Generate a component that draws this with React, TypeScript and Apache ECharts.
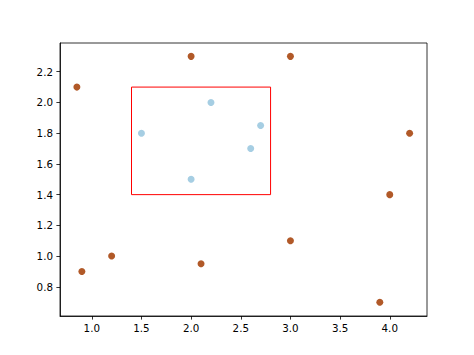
import React, { useEffect, useRef } from "react";
import * as echarts from "echarts";

const outsideX = [0.85, 2.0, 3.0, 4.2, 4.0, 3.0, 0.9, 1.2, 2.1, 3.9];
const outsideY = [2.1, 2.3, 2.3, 1.8, 1.4, 1.1, 0.9, 1.0, 0.95, 0.7];
const insideX = [1.5, 2.2, 2.7, 2.6, 2.0];
const insideY = [1.8, 2.0, 1.85, 1.7, 1.5];
const rectX = [1.4, 2.8, 2.8, 1.4, 1.4];
const rectY = [1.4, 1.4, 2.1, 2.1, 1.4];
const xTicks = [1.0, 1.5, 2.0, 2.5, 3.0, 3.5, 4.0];
const yTicks = [0.8, 1.0, 1.2, 1.4, 1.6, 1.8, 2.0, 2.2];

export default function App() {
  const ref = useRef<HTMLDivElement>(null);
  useEffect(() => {
    const chart = echarts.init(ref.current!, null, { renderer: "svg" });
    const font = { fontFamily: "DejaVu Sans", fontSize: 10.3, color: "#000" };
    chart.setOption({
      animation: false,
      backgroundColor: "#fff",
      grid: {
        left: 60,
        right: 47,
        top: 43,
        bottom: 39,
        show: true,
        borderColor: "#000",
        borderWidth: 0.8,
        backgroundColor: "transparent",
      },
      xAxis: {
        type: "value",
        min: 0.68,
        max: 4.375,
        splitLine: { show: false },
        axisLine: { show: true, lineStyle: { color: "#000", width: 0.8 } },
        axisTick: {
          show: true,
          inside: false,
          length: 3.6,
          lineStyle: { color: "#000", width: 0.8 },
          customValues: xTicks,
        },
        axisLabel: {
          ...font,
          margin: 7,
          customValues: xTicks,
          formatter: (v: number) => v.toFixed(1),
        },
      },
      yAxis: {
        type: "value",
        min: 0.61,
        max: 2.387,
        splitLine: { show: false },
        axisLine: { show: true, lineStyle: { color: "#000", width: 0.8 } },
        axisTick: {
          show: true,
          inside: false,
          length: 3.6,
          lineStyle: { color: "#000", width: 0.8 },
          customValues: yTicks,
        },
        axisLabel: {
          ...font,
          margin: 7,
          customValues: yTicks,
          formatter: (v: number) => v.toFixed(1),
        },
      },
      series: [
        {
          type: "line",
          data: rectX.map((x, i) => [x, rectY[i]]),
          symbol: "none",
          lineStyle: { color: "#ff0000", width: 1 },
          z: 1,
        },
        {
          type: "scatter",
          data: outsideX.map((x, i) => [x, outsideY[i]]),
          symbolSize: 7,
          itemStyle: { color: "#b15928", opacity: 1 },
          z: 2,
        },
        {
          type: "scatter",
          data: insideX.map((x, i) => [x, insideY[i]]),
          symbolSize: 7,
          itemStyle: { color: "#a6cee3", opacity: 1 },
          z: 2,
        },
      ],
    });
    return () => chart.dispose();
  }, []);
  return <div ref={ref} style={{ width: 474, height: 355, position: "absolute", left: 0, top: 0 }} />;
}
